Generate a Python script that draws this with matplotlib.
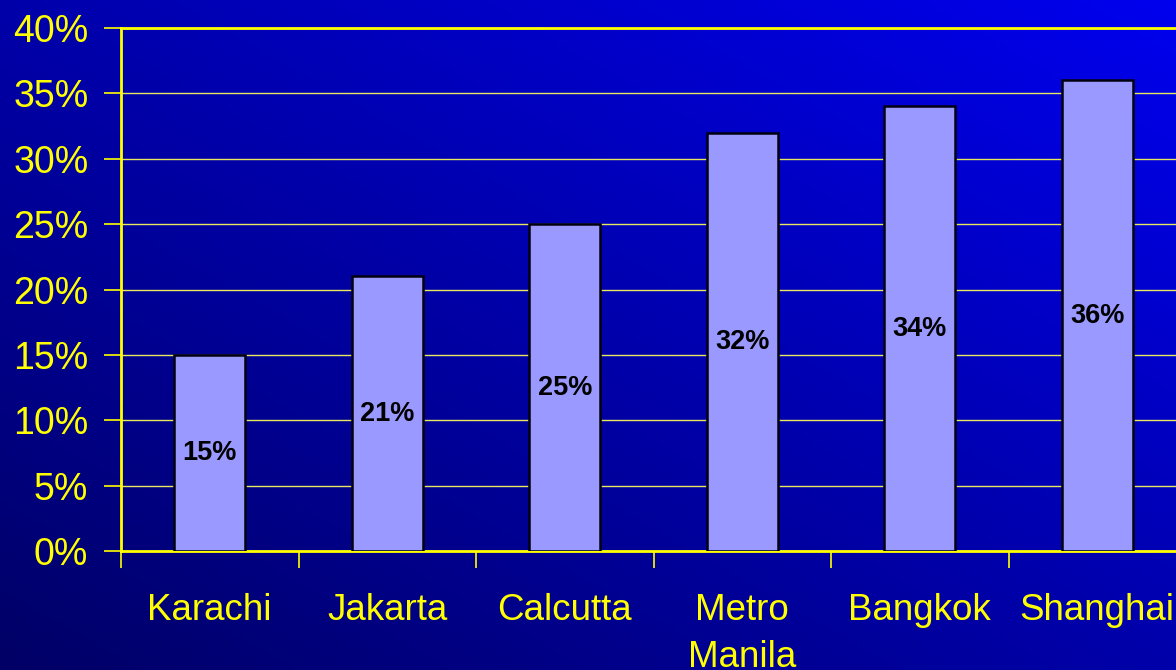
import numpy as np
import matplotlib
matplotlib.use("Agg")
import matplotlib.pyplot as plt
from matplotlib.colors import LinearSegmentedColormap

# Data
cities = ["Karachi", "Jakarta", "Calcutta", "Metro\nManila", "Bangkok", "Shanghai"]
shares = [15, 21, 25, 32, 34, 36]
y_ticks = [0, 5, 10, 15, 20, 25, 30, 35, 40]

yellow = "#FFFF00"
plt.rcParams["font.family"] = ["Liberation Sans", "DejaVu Sans"]

fig = plt.figure(figsize=(11.76, 6.7), dpi=100)

# diagonal gradient background: dark navy bottom-left -> bright blue top-right
bg = fig.add_axes([0, 0, 1, 1], zorder=-10)
gx, gy = np.meshgrid(np.linspace(0, 1, 300), np.linspace(1, 0, 200))
grad = (gx + gy) / 2
cmap = LinearSegmentedColormap.from_list("bg", ["#000066", "#0000EE"])
bg.imshow(grad, cmap=cmap, aspect="auto", extent=[0, 1, 0, 1], vmin=0, vmax=1)
bg.axis("off")

left, bottom, top = 121 / 1176, (670 - 551) / 670, (670 - 28) / 670
ax = fig.add_axes([left, bottom, 1065 / 1176, top - bottom])
ax.patch.set_alpha(0)

x = np.arange(len(cities))
bars = ax.bar(x, shares, width=0.4, color="#9999FF", edgecolor="#000010",
              linewidth=1.8, zorder=3)

for xi, v in zip(x, shares):
    ax.text(xi, v / 2, f"{v}%", ha="center", va="center", fontsize=19.5,
            fontweight="bold", color="black", zorder=4)

ax.set_xlim(-0.5, len(cities) - 0.5)
ax.set_ylim(0, 40)
ax.set_yticks(y_ticks)
ax.set_yticklabels([f"{t}%" for t in y_ticks])
ax.yaxis.grid(True, color="#E8E860", linewidth=1)
ax.set_axisbelow(True)

# category labels centred on bars, tick marks between categories
ax.set_xticks(x)
ax.set_xticklabels(cities, linespacing=1.45)
ax.set_xticks(np.arange(len(cities) + 1) - 0.5, minor=True)
ax.tick_params(axis="x", which="major", length=0, pad=30,
               labelsize=26.5, labelcolor=yellow)
ax.tick_params(axis="x", which="minor", length=12, width=1.2,
               color=yellow, direction="out")
ax.tick_params(axis="y", length=12, width=1.2, color=yellow, pad=11.5,
               labelsize=27, labelcolor=yellow, direction="out")

for side in ["left", "bottom", "top"]:
    ax.spines[side].set_color(yellow)
    ax.spines[side].set_linewidth(2)
ax.spines["right"].set_visible(False)

fig.savefig("out.png", dpi=100)
